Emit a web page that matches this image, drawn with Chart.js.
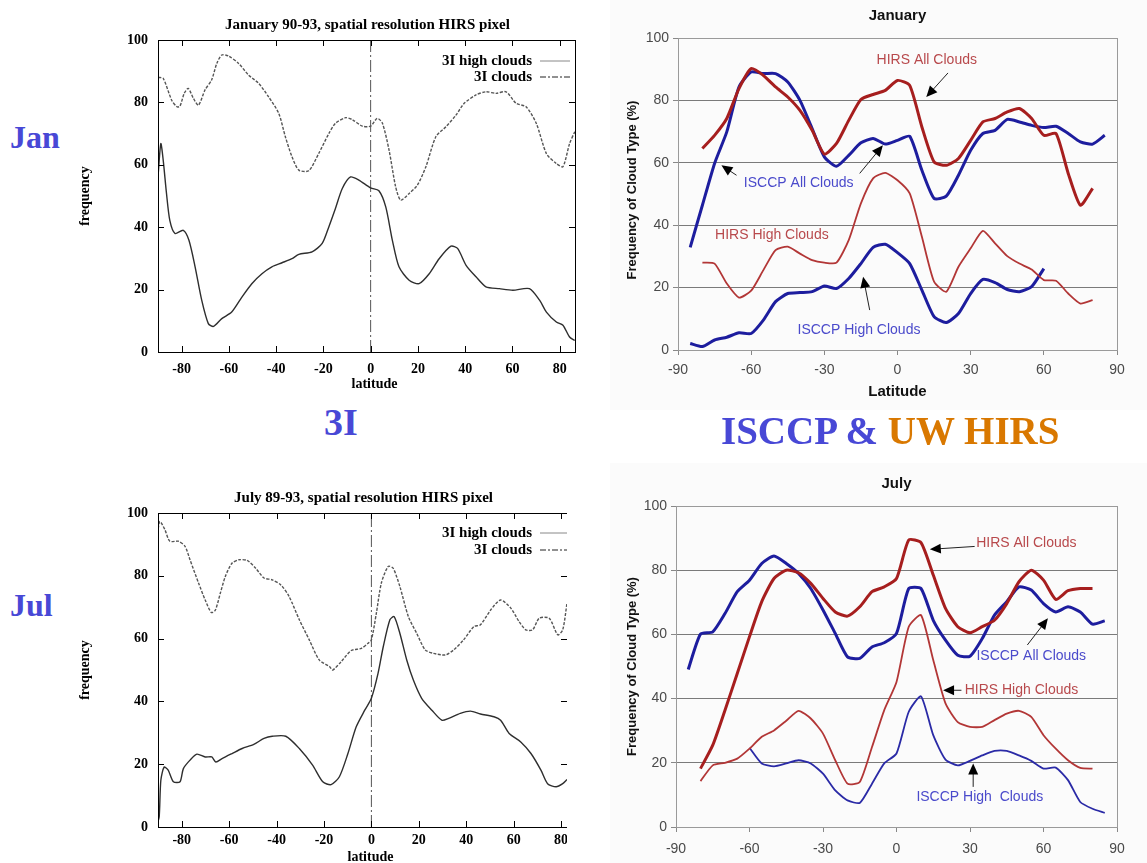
<!DOCTYPE html>
<html>
<head>
<meta charset="utf-8">
<script src="https://cdn.jsdelivr.net/npm/chart.js@4.4.0/dist/chart.umd.min.js"></script>
<style>
  body { margin: 0; width: 1147px; height: 863px; background: #fff; position: relative; overflow: hidden; }
  canvas { position: absolute; }
  .big { position: absolute; font-family: "Liberation Serif", serif; font-weight: bold; color: #4848d6; white-space: nowrap; line-height: 1; }
</style>
</head>
<body>
<canvas id="janLeft" width="530" height="400" style="left:60px;top:0px"></canvas>
<canvas id="janRight" width="537" height="410" style="left:610px;top:0px"></canvas>
<canvas id="julLeft" width="507" height="393" style="left:60px;top:470px"></canvas>
<canvas id="julRight" width="537" height="400" style="left:610px;top:463px"></canvas>

<div class="big" style="left:10px;top:121px;font-size:32px">Jan</div>
<div class="big" style="left:10px;top:589px;font-size:32px">Jul</div>
<div class="big" style="left:324px;top:403px;font-size:38px">3I</div>
<div class="big" style="left:721px;top:411px;font-size:39px">ISCCP &amp; <span style="color:#d97800">UW HIRS</span></div>

<script>
// ---- 3I, January 90-93 ----
const janLat3IAll = [-89.9,-87.8,-84.2,-82,-80.7,-78.9,-77.2,-75,-72.9,-70.1,-67.3,-65.1,-63,-60.2,-55.9,-51.7,-47.4,-43.2,-38.9,-36.1,-33.3,-30.4,-26.2,-22,-17.7,-14.9,-10.6,-7.8,-3.5,0,2.8,5,7.8,10.6,12.7,16.3,19.8,23.4,27.6,31.9,36.1,39.6,44.6,48.8,53.1,57.3,61.6,65.8,70.1,74.4,78.6,81.4,84.2,86.4];
const janVal3IAll = [88,87.7,80.7,78.6,78.8,82.9,84.5,81.3,79.1,84,87.2,92.5,95.2,94.9,92.5,88.8,86.1,81.8,76.5,69,62.6,58.3,58.1,63.6,70,73.3,75.1,74.5,72.4,72.4,74.9,73.3,64.7,52.9,48.7,50.8,53.5,59.4,69,72.2,75.9,79.7,82.4,83.4,82.9,83.4,79.7,78.6,73.3,63.6,60.4,59.4,66.8,70.6];
const janLat3IHigh = [-89.9,-88.8,-87.8,-86.4,-85,-82.8,-79.3,-76.9,-74.3,-71.5,-68.7,-66.5,-63,-58.8,-54.5,-50.3,-46,-41.8,-37.5,-33.3,-30.4,-24.8,-20.5,-17.7,-14.9,-12,-8.5,-5,0,3.5,6.4,9.2,12,16.3,20.5,24.8,29,34,36.8,40.4,44.6,48.8,54.5,60.2,67.2,71.5,74.4,78.6,81.4,84.2,86.4];
const janVal3IHigh = [57.2,66.8,61.5,50.8,42.2,38,39,35.8,27.3,16.6,9.1,8.2,10.7,12.8,17.6,21.9,25.1,27.3,28.6,29.9,31.3,32.1,34.8,40.1,46,52.4,56.1,55.1,52.6,51.7,46.5,35.8,27.3,23,21.9,25.1,29.9,33.9,33.2,27.8,24.1,20.9,20.3,19.8,20.3,16.6,12.8,9.6,8.6,4.8,3.7];

// ---- 3I, July 89-93 ----
const julLat3IAll = [-90.2,-89.2,-87.1,-85,-81.4,-78.6,-76.5,-72.9,-70.1,-67.5,-65.8,-63.7,-61.6,-58.8,-55.9,-52.4,-48.8,-45.3,-41.8,-38.2,-34.7,-30.4,-26.2,-22,-17.7,-16.3,-12.7,-8.5,-4.2,-1.4,0,2.1,4.2,7.1,9.2,12,15.6,19.1,22.7,26.2,31.2,34.7,38.9,43.2,46,50.3,54.5,58.8,62.3,65.1,68,70.8,75,78.6,80.7,82.5];
const julVal3IAll = [93.6,97.3,94.7,91,91,89.4,85.1,77.7,72.3,68.3,69.1,74.5,79.8,84,85.1,84.9,82.4,79.3,78.7,77.1,73.4,66,59.6,53.2,51.1,50,52.7,56.2,56.9,58.5,59.6,68.1,77.7,83,82.4,76.6,67,61.7,56.4,55.3,54.8,56.4,59.6,63.8,64.4,69.1,72.3,69.7,65.4,62.8,62.8,66.5,66.5,61.2,62.8,71.3];
const julLat3IHigh = [-90.3,-89.5,-88.8,-87.4,-85.7,-83.5,-80.7,-79.3,-76.5,-73.6,-70.1,-67.3,-65.6,-63,-58.8,-54.5,-49.6,-45.3,-41.8,-36.1,-30.4,-24.8,-20.5,-17,-13.5,-9.9,-6.4,-2.8,0,2.8,5,7.8,9.6,12,14.9,17.7,21.2,25.5,29.7,32.6,37.5,41.8,46,51.7,54.5,58.1,63,67.3,71.5,74.3,77.9,80.7,82.5];
const julVal3IHigh = [1.1,3.2,14.9,19.1,18.1,14.4,14.4,18.6,21.3,23.2,22.3,22.3,20.7,21.8,23.4,25,26.3,28.2,28.9,28.9,25,19.7,14.4,13.5,16,23.4,31.9,37.2,41,48.9,57.4,66,67,61.7,53.2,46.8,41,37.2,34,34.6,36.2,36.9,36,35.1,34,29.8,27.1,23.4,18.1,13.8,12.8,13.8,15.1];

// ---- ISCCP & UW HIRS ----
const lat85 = [-85,-80,-75,-70,-65,-60,-55,-50,-45,-40,-35,-30,-25,-20,-15,-10,-5,0,5,10,15,20,25,30,35,40,45,50,55,60,65,70,75,80,85];
const lat80 = [-80,-75,-70,-65,-60,-55,-50,-45,-40,-35,-30,-25,-20,-15,-10,-5,0,5,10,15,20,25,30,35,40,45,50,55,60,65,70,75,80];
const latJanIsccpHigh = [-85,-80,-75,-70,-65,-60,-55,-50,-45,-40,-35,-30,-25,-20,-15,-10,-5,0,5,10,15,20,25,30,35,40,45,50,55,60];
const latJulIsccpHigh = [-60,-55,-50,-45,-40,-35,-30,-25,-20,-15,-10,-5,0,5,10,15,20,25,30,35,40,45,50,55,60,65,70,75,80,85];

const janHirsAll = [64.6,68.8,74.2,83.8,90.2,88,84.3,81.1,76.8,70.4,62.8,66.2,73.6,80.3,81.9,83.2,86.4,84.8,71.5,60.3,59.2,61.4,67.2,73.1,74.2,76.3,77.4,74.2,68.8,69.4,56.6,46.4,51.8];
const janIsccpAll = [32.9,46.4,59.8,69.9,84.3,89.1,88.6,88.6,85.9,80,71,61.9,58.9,62.4,66.4,67.8,66,67.2,68.5,57.6,48.6,49.3,56,64,69.4,70.4,73.9,73.1,72,71.3,71.7,69.4,66.7,66,68.8];
const janHirsHigh = [28,27.7,21.3,16.8,19,25.6,32,33.1,30.9,28.8,28,28,35.2,47,55,56.8,54.4,50.2,36.3,21.9,18.7,26.7,32.6,38.2,34.2,30.1,27.7,25.8,22.4,22.2,18.1,14.9,16];
const janIsccpHigh = [2.1,1.1,3.2,4.1,5.5,5.3,9.6,15.5,18.1,18.4,18.7,20.5,19.7,22.9,27.7,32.9,33.9,31.2,27.7,19.2,10.7,8.8,11.7,18.1,22.6,21.6,19.4,18.7,20.3,26.1];

const julHirsAll = [18.2,25.5,36.4,47.8,59.3,70.2,77.4,80,79.2,75.9,71.2,67,65.7,68.6,73.3,74.8,77.4,89.4,88.6,78.5,68.1,62.4,60.5,62.4,64.4,69.6,76.4,80,76.9,70.9,73.6,74.3,74.3];
const julIsccpAll = [49.1,60.1,60.8,66.5,73.3,76.9,82.1,84.4,82.1,79,74.3,67.6,60.3,53,52.5,56.1,57.4,60.3,74.3,74.3,64.4,58.2,53.5,53.2,58.7,66,70.2,74.8,73.8,69.6,67,68.6,67,63.2,64.2];
const julHirsHigh = [14.3,19.2,20,21.3,24.4,28.1,30.1,33.1,36.2,33.8,29.1,20.8,13.5,14,24.9,36.4,45.2,62.4,66,52,38.5,32.7,31.2,31.2,33.3,35.3,36.2,34.3,28.6,24.4,20.8,18.4,18.2];
const julIsccpHigh = [24.7,19.8,18.9,19.8,20.8,19.8,16.6,11.4,8.3,7.5,13.5,19.8,22.9,35.9,40.7,28.6,21,19.2,20.6,22.3,23.7,23.7,22.3,20.6,18.2,18.5,14.6,7.8,5.7,4.4];

const leftXTicks = [-80,-60,-40,-20,0,20,40,60,80];
const rightXTicks = [-90,-60,-30,0,30,60,90];
const yTicks = [0,20,40,60,80,100];

const pts = (xs, ys) => xs.map((x, i) => ({ x: x, y: ys[i] }));

const SERIF = '"Liberation Serif", "Times New Roman", serif';
const SANS = '"Liberation Sans", Arial, sans-serif';

// gnuplot style panels (left)
function leftChart(id, cfg) {
  const decor = {
    id: 'gnuDecor',
    afterDraw(chart) {
      const ctx = chart.ctx, a = chart.chartArea;
      ctx.save();
      ctx.strokeStyle = '#000';
      ctx.lineWidth = 1;
      ctx.strokeRect(a.left + 0.5, a.top + 0.5, a.width, a.height);
      // inward ticks on all sides
      chart.scales.x.ticks.forEach(t => {
        const px = Math.round(chart.scales.x.getPixelForValue(t.value)) + 0.5;
        ctx.beginPath();
        ctx.moveTo(px, a.bottom); ctx.lineTo(px, a.bottom - 6);
        ctx.moveTo(px, a.top); ctx.lineTo(px, a.top + 6);
        ctx.stroke();
      });
      chart.scales.y.ticks.forEach(t => {
        const py = Math.round(chart.scales.y.getPixelForValue(t.value)) + 0.5;
        ctx.beginPath();
        ctx.moveTo(a.left, py); ctx.lineTo(a.left + 6, py);
        ctx.moveTo(a.right, py); ctx.lineTo(a.right - 6, py);
        ctx.stroke();
      });
      ctx.fillStyle = '#000';
      ctx.font = 'bold 15px ' + SERIF;
      ctx.textAlign = 'center';
      ctx.textBaseline = 'middle';
      ctx.fillText(cfg.title, (a.left + a.right) / 2 + 1, a.top - 15);
      ctx.font = 'bold 14px ' + SERIF;
      ctx.fillText('latitude', (a.left + a.right) / 2 + 8, a.bottom + cfg.xTitleGap);
      ctx.save();
      ctx.translate(25, (a.top + a.bottom) / 2);
      ctx.rotate(-Math.PI / 2);
      ctx.fillText('frequency', 0, 0);
      ctx.restore();
      // legend
      ctx.font = 'bold 15px ' + SERIF;
      ctx.textAlign = 'right';
      const lx = 472;
      ctx.fillText('3I high clouds', lx, a.top + cfg.legendY[0]);
      ctx.fillText('3I clouds', lx, a.top + cfg.legendY[1]);
      ctx.lineWidth = 1;
      ctx.strokeStyle = '#888';
      ctx.beginPath();
      ctx.moveTo(lx + 8, a.top + cfg.legendY[0]); ctx.lineTo(lx + 38, a.top + cfg.legendY[0]);
      ctx.stroke();
      ctx.strokeStyle = '#222';
      ctx.setLineDash([6, 2, 2, 2]);
      ctx.beginPath();
      ctx.moveTo(lx + 8, a.top + cfg.legendY[1]); ctx.lineTo(lx + 38, a.top + cfg.legendY[1]);
      ctx.stroke();
      ctx.restore();
    }
  };
  return new Chart(document.getElementById(id), {
    type: 'line',
    data: {
      datasets: [
        { data: pts(cfg.allLat, cfg.allVal), borderColor: '#555', borderWidth: 1.4, borderDash: [3, 1.5], pointRadius: 0, tension: 0.25 },
        { data: pts(cfg.highLat, cfg.highVal), borderColor: '#2e2e2e', borderWidth: 1.4, pointRadius: 0, tension: 0.25 },
        { data: [{ x: 0, y: 0 }, { x: 0, y: 100 }], borderColor: '#555', borderWidth: 1, borderDash: [12, 3, 2, 3], pointRadius: 0 }
      ]
    },
    options: {
      responsive: false,
      animation: false,
      layout: { padding: { top: cfg.pt, right: cfg.pr, left: 0, bottom: 0 } },
      plugins: { legend: { display: false }, tooltip: { enabled: false } },
      scales: {
        x: {
          type: 'linear', min: -90, max: cfg.xmax,
          grid: { display: false, drawTicks: false }, border: { display: false },
          afterBuildTicks: s => { s.ticks = leftXTicks.map(v => ({ value: v })); },
          ticks: { color: '#000', font: { family: SERIF, size: 14, weight: 'bold' }, padding: cfg.xPad, maxRotation: 0 },
          afterFit: s => { s.height = cfg.xh; s.paddingLeft = 0; s.paddingRight = 0; }
        },
        y: {
          type: 'linear', min: 0, max: 100,
          grid: { display: false, drawTicks: false }, border: { display: false },
          afterBuildTicks: s => { s.ticks = yTicks.map(v => ({ value: v })); },
          ticks: { color: '#000', font: { family: SERIF, size: 14, weight: 'bold' }, padding: 10 },
          afterFit: s => { s.width = 98; s.paddingTop = 0; s.paddingBottom = 0; }
        }
      }
    },
    plugins: [decor]
  });
}

// excel style panels (right)
function drawArrow(ctx, x1, y1, x2, y2) {
  const ang = Math.atan2(y2 - y1, x2 - x1);
  ctx.beginPath();
  ctx.moveTo(x1, y1); ctx.lineTo(x2 - 8 * Math.cos(ang), y2 - 8 * Math.sin(ang));
  ctx.stroke();
  ctx.beginPath();
  ctx.moveTo(x2, y2);
  ctx.lineTo(x2 - 11 * Math.cos(ang) + 5 * Math.sin(ang), y2 - 11 * Math.sin(ang) - 5 * Math.cos(ang));
  ctx.lineTo(x2 - 11 * Math.cos(ang) - 5 * Math.sin(ang), y2 - 11 * Math.sin(ang) + 5 * Math.cos(ang));
  ctx.closePath();
  ctx.fill();
}

function rightChart(id, cfg) {
  const decor = {
    id: 'xlDecor',
    beforeDraw(chart) {
      const ctx = chart.ctx;
      ctx.save();
      ctx.fillStyle = '#fbfbfb';
      ctx.fillRect(0, 0, chart.width, chart.height);
      ctx.restore();
    },
    afterDraw(chart) {
      const ctx = chart.ctx, a = chart.chartArea, sx = chart.scales.x, sy = chart.scales.y;
      ctx.save();
      ctx.strokeStyle = '#9a9a9a';
      ctx.lineWidth = 1;
      ctx.strokeRect(a.left + 0.5, a.top + 0.5, a.width, a.height);
      ctx.fillStyle = '#111';
      ctx.textAlign = 'center';
      ctx.textBaseline = 'middle';
      ctx.font = 'bold 15px ' + SANS;
      ctx.fillText(cfg.title, (a.left + a.right) / 2, a.top - 22);
      if (cfg.showXTitle) ctx.fillText('Latitude', (a.left + a.right) / 2, a.bottom + 42);
      ctx.font = 'bold 13px ' + SANS;
      ctx.save();
      ctx.translate(22, (a.top + a.bottom) / 2 + cfg.yTitleShift);
      ctx.rotate(-Math.PI / 2);
      ctx.fillText('Frequency of Cloud Type (%)', 0, 0);
      ctx.restore();
      // labels and arrows
      ctx.font = '14px ' + SANS;
      cfg.notes.forEach(n => {
        ctx.fillStyle = n.color;
        ctx.textAlign = n.align || 'center';
        ctx.fillText(n.text, sx.getPixelForValue(n.x), sy.getPixelForValue(n.y));
      });
      ctx.strokeStyle = '#222';
      ctx.fillStyle = '#000';
      ctx.lineWidth = 1;
      cfg.arrows.forEach(r => {
        drawArrow(ctx, sx.getPixelForValue(r[0]), sy.getPixelForValue(r[1]), sx.getPixelForValue(r[2]), sy.getPixelForValue(r[3]));
      });
      ctx.restore();
    }
  };
  return new Chart(document.getElementById(id), {
    type: 'line',
    data: { datasets: cfg.series.map(s => ({ data: s.data, borderColor: s.color, borderWidth: s.width, pointRadius: 0, tension: 0.2 })) },
    options: {
      responsive: false,
      animation: false,
      layout: { padding: { top: cfg.pt, right: 30, left: 0, bottom: 0 } },
      plugins: { legend: { display: false }, tooltip: { enabled: false } },
      scales: {
        x: {
          type: 'linear', min: -90, max: 90,
          grid: { drawOnChartArea: false, tickLength: 5, tickColor: '#888' }, border: { color: '#9a9a9a' },
          afterBuildTicks: s => { s.ticks = rightXTicks.map(v => ({ value: v })); },
          ticks: { color: '#4a4a4a', font: { family: SANS, size: 14 }, padding: cfg.xPad, maxRotation: 0 },
          afterFit: s => { s.height = cfg.xh; s.paddingLeft = 0; s.paddingRight = 0; }
        },
        y: {
          type: 'linear', min: 0, max: 100,
          grid: { color: c => (c.tick.value === 0 || c.tick.value === 100) ? 'rgba(0,0,0,0)' : '#7a7a7a', tickLength: 5, tickColor: '#888' },
          border: { color: '#9a9a9a' },
          afterBuildTicks: s => { s.ticks = yTicks.map(v => ({ value: v })); },
          ticks: { color: '#4a4a4a', font: { family: SANS, size: 14 }, padding: 4 },
          afterFit: s => { s.width = cfg.yw; s.paddingTop = 0; s.paddingBottom = 0; }
        }
      }
    },
    plugins: [decor]
  });
}

const RED = '#a61e1e', RED_THIN = '#b23636', BLUE = '#1d1d9e', RED_TXT = '#b8494c', BLUE_TXT = '#4a4acb';

leftChart('janLeft', {
  title: 'January 90-93, spatial resolution HIRS pixel',
  allLat: janLat3IAll, allVal: janVal3IAll, highLat: janLat3IHigh, highVal: janVal3IHigh,
  xmax: 86.5, pt: 40, pr: 15, xh: 48, xPad: 9, xTitleGap: 32, legendY: [21, 37]
});

leftChart('julLeft', {
  title: 'July 89-93, spatial resolution HIRS pixel',
  allLat: julLat3IAll, allVal: julVal3IAll, highLat: julLat3IHigh, highVal: julVal3IHigh,
  xmax: 82.5, pt: 43, pr: 0, xh: 36, xPad: 5, xTitleGap: 30, legendY: [20, 37]
});

rightChart('janRight', {
  title: 'January', showXTitle: true, pt: 38, xh: 60, yw: 68, xPad: 7, yTitleShift: -4,
  series: [
    { data: pts(lat80, janHirsHigh), color: RED_THIN, width: 1.8 },
    { data: pts(latJanIsccpHigh, janIsccpHigh), color: BLUE, width: 3 },
    { data: pts(lat80, janHirsAll), color: RED, width: 3 },
    { data: pts(lat85, janIsccpAll), color: BLUE, width: 3 }
  ],
  notes: [
    { text: 'HIRS All Clouds', x: 12, y: 93, color: RED_TXT },
    { text: 'ISCCP All Clouds', x: -40.5, y: 53.4, color: BLUE_TXT },
    { text: 'HIRS High Clouds', x: -51.5, y: 36.8, color: RED_TXT },
    { text: 'ISCCP High Clouds', x: -15.8, y: 6.4, color: BLUE_TXT }
  ],
  arrows: [
    [20.7, 88.8, 11.8, 81.1],
    [-15.5, 56.6, -6, 65.6],
    [-66, 56, -72.2, 59.2],
    [-11.4, 12.8, -14.1, 23.5]
  ]
});

rightChart('julRight', {
  title: 'July', showXTitle: false, pt: 43, xh: 36, yw: 66, xPad: 9, yTitleShift: 0,
  series: [
    { data: pts(lat80, julHirsHigh), color: RED_THIN, width: 1.8 },
    { data: pts(latJulIsccpHigh, julIsccpHigh), color: '#2a2aa6', width: 1.8 },
    { data: pts(lat80, julHirsAll), color: RED, width: 3 },
    { data: pts(lat85, julIsccpAll), color: BLUE, width: 3 }
  ],
  notes: [
    { text: 'HIRS All Clouds', x: 32.5, y: 88.4, color: RED_TXT, align: 'left' },
    { text: 'ISCCP All Clouds', x: 55, y: 53.2, color: BLUE_TXT },
    { text: 'HIRS High Clouds', x: 51, y: 42.6, color: RED_TXT },
    { text: 'ISCCP High  Clouds', x: 34, y: 9.4, color: BLUE_TXT }
  ],
  arrows: [
    [31.9, 87.4, 13.6, 86.5],
    [53.4, 56.7, 61.8, 65],
    [26.5, 42.6, 19, 42.6],
    [31.3, 12.5, 31.3, 19.8]
  ]
});
</script>
</body>
</html>
